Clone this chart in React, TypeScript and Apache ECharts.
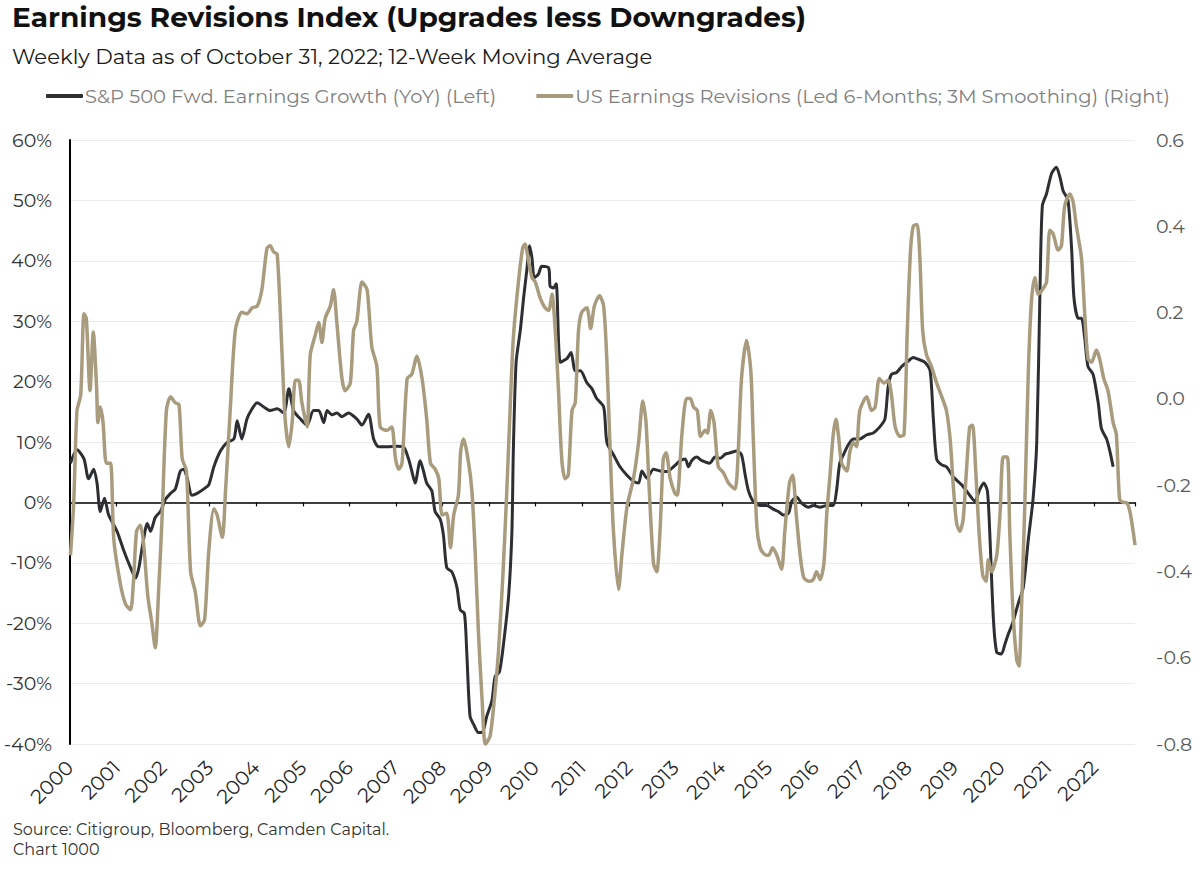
import React, { useEffect, useRef } from "react";
import * as echarts from "echarts";

// S&P 500 forward earnings growth, YoY (%), left axis — [decimal year, value]
const sp500Growth: [number, number][] = [
  [2000.01, 6.5], [2000.15, 8.7], [2000.3, 7.2], [2000.4, 3.9], [2000.51, 5.5], [2000.58, 3.2], [2000.65, -1.5], [2000.74, 0.7], [2000.83, -2.1],
  [2001.01, -4.8], [2001.16, -8.1], [2001.3, -10.8], [2001.41, -12.5], [2001.48, -10.8], [2001.55, -7.5], [2001.66, -3.5], [2001.73, -4.8], [2001.83, -2.5], [2001.94, -1.5],
  [2002.05, 0.5], [2002.16, 1.5], [2002.26, 2.2], [2002.37, 5.2], [2002.44, 5.5], [2002.51, 4.2], [2002.62, 1.2], [2002.73, 1.5], [2002.87, 2.2], [2002.98, 2.9],
  [2003.09, 5.9], [2003.23, 8.5], [2003.37, 9.9], [2003.52, 10.5], [2003.59, 13.5], [2003.69, 10.5], [2003.8, 13.8], [2003.91, 15.5],
  [2004.02, 16.5], [2004.16, 15.8], [2004.3, 15.2], [2004.45, 15.5], [2004.59, 14.8], [2004.7, 18.8], [2004.8, 15.2], [2004.95, 13.8],
  [2005.09, 12.8], [2005.23, 15.2], [2005.34, 15.2], [2005.45, 13.2], [2005.52, 15.2], [2005.63, 14.5], [2005.73, 14.8], [2005.84, 14.2], [2005.98, 14.8],
  [2006.16, 13.8], [2006.27, 12.8], [2006.41, 14.6], [2006.52, 10.5], [2006.63, 9.2], [2006.81, 9.2],
  [2007.02, 9.3], [2007.16, 9.2], [2007.27, 7.2], [2007.34, 5.2], [2007.41, 3.2], [2007.52, 6.9], [2007.59, 5.2], [2007.66, 3.2], [2007.77, 1.9], [2007.84, -1.5], [2007.95, -2.8],
  [2008.02, -5.5], [2008.09, -10.8], [2008.2, -11.5], [2008.31, -14.1], [2008.38, -17.8], [2008.47, -18.4], [2008.52, -24.8], [2008.59, -35.4], [2008.67, -36.8], [2008.77, -38.1], [2008.85, -38.1], [2008.95, -35.4],
  [2009.06, -32.8], [2009.13, -28.8], [2009.22, -28.1], [2009.31, -23.4], [2009.42, -15.4], [2009.49, -4.8], [2009.52, 8.5], [2009.58, 23.2], [2009.67, 28.5], [2009.74, 33.8], [2009.81, 38.5], [2009.87, 42.5], [2009.92, 40.5], [2009.97, 37.2],
  [2010.06, 37.8], [2010.13, 39.1], [2010.28, 38.8], [2010.31, 35.8], [2010.38, 35.5], [2010.44, 36.2], [2010.53, 23.2], [2010.67, 23.8], [2010.76, 24.8], [2010.85, 21.8], [2010.96, 21.8],
  [2011.1, 19.8], [2011.21, 18.8], [2011.31, 17.2], [2011.46, 15.8], [2011.53, 9.9], [2011.67, 7.9], [2011.81, 5.9], [2011.96, 4.5],
  [2012.1, 3.5], [2012.21, 3.2], [2012.28, 5.2], [2012.39, 4.0], [2012.53, 5.5], [2012.67, 5.2], [2012.82, 5.1], [2012.96, 5.9],
  [2013.1, 6.9], [2013.21, 7.2], [2013.28, 5.9], [2013.35, 6.9], [2013.46, 7.5], [2013.57, 6.9], [2013.74, 6.5], [2013.85, 7.5], [2013.96, 7.3],
  [2014.07, 8.0], [2014.17, 8.2], [2014.32, 8.5], [2014.42, 7.9], [2014.5, 4.5], [2014.57, 1.9], [2014.67, 0.2], [2014.82, -0.5], [2014.96, -0.5],
  [2015.1, -1.1], [2015.21, -1.5], [2015.32, -2.1], [2015.43, -1.8], [2015.5, 0.2], [2015.6, 0.9], [2015.71, -0.1], [2015.86, -0.8], [2015.96, -0.5],
  [2016.11, -0.8], [2016.25, -0.5], [2016.39, -0.5], [2016.46, 1.9], [2016.53, 6.5], [2016.61, 7.9], [2016.71, 9.5], [2016.82, 10.5], [2016.96, 10.5],
  [2017.11, 11.2], [2017.25, 11.5], [2017.39, 12.5], [2017.5, 13.8], [2017.57, 19.2], [2017.64, 21.2], [2017.75, 21.5], [2017.86, 22.5], [2017.97, 23.2],
  [2018.11, 24.0], [2018.18, 23.8], [2018.36, 23.2], [2018.47, 21.8], [2018.54, 13.8], [2018.61, 7.2], [2018.72, 6.2], [2018.82, 5.9], [2018.97, 4.2],
  [2019.15, 2.9], [2019.29, 1.5], [2019.43, 0.2], [2019.54, 2.2], [2019.62, 3.2], [2019.7, 1.9], [2019.75, -4.8], [2019.83, -19.4], [2019.9, -24.8],
  [2020.0, -25.1], [2020.08, -23.4], [2020.15, -21.8], [2020.25, -19.8], [2020.36, -16.8], [2020.47, -14.1], [2020.58, -6.1], [2020.68, 0.5], [2020.76, 9.9], [2020.83, 35.2], [2020.88, 49.1], [2020.97, 51.1],
  [2021.08, 54.5], [2021.18, 55.5], [2021.26, 53.8], [2021.33, 51.5], [2021.43, 50.1], [2021.51, 41.8], [2021.56, 33.8], [2021.65, 30.5], [2021.72, 30.5], [2021.79, 27.2], [2021.86, 22.5], [2021.97, 21.2],
  [2022.08, 16.5], [2022.15, 12.2], [2022.26, 10.5], [2022.33, 8.5], [2022.4, 5.9],
];

// US earnings revisions (led 6 months, 3M smoothing), right axis — [decimal year, value]
const usRevisions: [number, number][] = [
  [2000.01, -0.363], [2000.08, -0.241], [2000.15, -0.027], [2000.23, 0.009], [2000.3, 0.197], [2000.35, 0.187], [2000.43, 0.019], [2000.5, 0.155], [2000.57, 0.029], [2000.6, -0.055], [2000.65, -0.019], [2000.71, -0.055], [2000.78, -0.149], [2000.87, -0.149], [2000.94, -0.325],
  [2001.08, -0.428], [2001.19, -0.475], [2001.3, -0.489], [2001.36, -0.428], [2001.43, -0.307], [2001.51, -0.293], [2001.58, -0.335], [2001.67, -0.456], [2001.76, -0.521], [2001.83, -0.577], [2001.91, -0.428], [2001.98, -0.269],
  [2002.07, -0.027], [2002.16, 0.005], [2002.26, -0.009], [2002.34, -0.013], [2002.41, -0.139], [2002.5, -0.167], [2002.59, -0.401], [2002.69, -0.447], [2002.8, -0.526], [2002.89, -0.512], [2002.98, -0.353],
  [2003.09, -0.255], [2003.16, -0.269], [2003.27, -0.321], [2003.34, -0.213], [2003.44, -0.027], [2003.55, 0.159], [2003.69, 0.201], [2003.8, 0.197], [2003.91, 0.211],
  [2004.02, 0.215], [2004.12, 0.253], [2004.23, 0.349], [2004.3, 0.355], [2004.37, 0.341], [2004.45, 0.335], [2004.55, 0.113], [2004.62, -0.047], [2004.7, -0.111], [2004.77, -0.055], [2004.84, 0.043], [2004.91, 0.043], [2004.98, -0.009],
  [2005.09, -0.065], [2005.16, 0.103], [2005.27, 0.149], [2005.34, 0.177], [2005.41, 0.131], [2005.48, 0.187], [2005.59, 0.215], [2005.66, 0.253], [2005.73, 0.177], [2005.84, 0.047], [2005.91, 0.019],
  [2006.02, 0.037], [2006.09, 0.159], [2006.16, 0.18], [2006.27, 0.271], [2006.38, 0.253], [2006.48, 0.121], [2006.59, 0.075], [2006.66, -0.065], [2006.81, -0.073], [2006.91, -0.065], [2006.99, -0.139],
  [2007.06, -0.163], [2007.13, -0.149], [2007.24, 0.047], [2007.34, 0.057], [2007.45, 0.099], [2007.56, 0.047], [2007.66, -0.047], [2007.74, -0.149], [2007.84, -0.163], [2007.92, -0.185], [2007.99, -0.269],
  [2008.09, -0.265], [2008.17, -0.345], [2008.24, -0.269], [2008.34, -0.223], [2008.39, -0.121], [2008.45, -0.093], [2008.56, -0.149], [2008.63, -0.213], [2008.7, -0.353], [2008.77, -0.54], [2008.85, -0.699], [2008.92, -0.8],
  [2009.02, -0.782], [2009.11, -0.699], [2009.2, -0.587], [2009.3, -0.401], [2009.38, -0.213], [2009.45, -0.027], [2009.52, 0.141], [2009.63, 0.271], [2009.72, 0.349], [2009.77, 0.359], [2009.85, 0.317], [2009.92, 0.281], [2009.99, 0.271],
  [2010.1, 0.233], [2010.2, 0.211], [2010.28, 0.205], [2010.35, 0.243], [2010.42, 0.159], [2010.49, 0.019], [2010.56, -0.139], [2010.63, -0.185], [2010.7, -0.177], [2010.78, -0.027], [2010.85, -0.009], [2010.92, 0.159], [2010.99, 0.201],
  [2011.1, 0.211], [2011.18, 0.163], [2011.26, 0.215], [2011.37, 0.239], [2011.46, 0.215], [2011.53, 0.085], [2011.6, -0.121], [2011.67, -0.307], [2011.78, -0.442], [2011.85, -0.363], [2011.96, -0.251],
  [2012.1, -0.185], [2012.21, -0.101], [2012.3, -0.005], [2012.37, -0.055], [2012.44, -0.213], [2012.53, -0.381], [2012.6, -0.401], [2012.67, -0.307], [2012.74, -0.139], [2012.8, -0.125], [2012.89, -0.185], [2012.99, -0.219],
  [2013.04, -0.223], [2013.14, -0.083], [2013.24, 0.001], [2013.32, 0.001], [2013.39, -0.019], [2013.47, -0.027], [2013.54, -0.087], [2013.64, -0.073], [2013.69, -0.079], [2013.76, -0.027], [2013.83, -0.055], [2013.92, -0.157],
  [2014.03, -0.171], [2014.14, -0.195], [2014.28, -0.209], [2014.35, -0.121], [2014.42, 0.047], [2014.53, 0.135], [2014.62, 0.065], [2014.67, -0.083], [2014.75, -0.297], [2014.82, -0.345], [2014.9, -0.359],
  [2015.0, -0.363], [2015.09, -0.345], [2015.18, -0.363], [2015.28, -0.395], [2015.35, -0.307], [2015.45, -0.195], [2015.52, -0.177], [2015.59, -0.261], [2015.68, -0.363], [2015.76, -0.415], [2015.88, -0.423], [2015.96, -0.419],
  [2016.03, -0.401], [2016.11, -0.419], [2016.19, -0.381], [2016.25, -0.269], [2016.32, -0.177], [2016.39, -0.083], [2016.45, -0.047], [2016.5, -0.083], [2016.57, -0.149], [2016.68, -0.167], [2016.75, -0.121], [2016.82, -0.101], [2016.89, -0.111], [2016.96, -0.027],
  [2017.11, 0.005], [2017.21, -0.027], [2017.29, -0.019], [2017.38, 0.047], [2017.48, 0.037], [2017.57, 0.043], [2017.64, 0.009], [2017.72, -0.065], [2017.82, -0.087], [2017.91, -0.083], [2017.98, 0.159],
  [2018.05, 0.345], [2018.11, 0.401], [2018.19, 0.404], [2018.25, 0.327], [2018.31, 0.159], [2018.39, 0.103], [2018.5, 0.075], [2018.61, 0.037], [2018.72, 0.005], [2018.82, -0.027], [2018.9, -0.093], [2018.97, -0.205],
  [2019.04, -0.289], [2019.11, -0.307], [2019.18, -0.279], [2019.25, -0.167], [2019.32, -0.065], [2019.38, -0.061], [2019.45, -0.167], [2019.52, -0.307], [2019.6, -0.409], [2019.67, -0.423], [2019.72, -0.373], [2019.79, -0.401], [2019.9, -0.363], [2019.97, -0.269],
  [2020.04, -0.135], [2020.13, -0.135], [2020.18, -0.307], [2020.25, -0.493], [2020.33, -0.605], [2020.38, -0.619], [2020.43, -0.493], [2020.5, -0.261], [2020.58, 0.065], [2020.65, 0.233], [2020.72, 0.281], [2020.79, 0.243], [2020.88, 0.253], [2020.97, 0.271],
  [2021.04, 0.391], [2021.11, 0.383], [2021.22, 0.345], [2021.29, 0.355], [2021.36, 0.447], [2021.47, 0.475], [2021.54, 0.457], [2021.61, 0.401], [2021.72, 0.327], [2021.79, 0.197], [2021.86, 0.093], [2021.94, 0.085],
  [2022.04, 0.113], [2022.11, 0.093], [2022.2, 0.047], [2022.29, 0.019], [2022.4, -0.055], [2022.47, -0.083], [2022.54, -0.233], [2022.62, -0.24], [2022.69, -0.241], [2022.76, -0.261], [2022.83, -0.307], [2022.87, -0.339],
];

const seriesNames = [
  "S&P 500 Fwd. Earnings Growth (YoY) (Left)",
  "US Earnings Revisions (Led 6-Months; 3M Smoothing) (Right)",
];
const titleText = "Earnings Revisions Index (Upgrades less Downgrades)";
const subtitleText = "Weekly Data as of October 31, 2022; 12-Week Moving Average";
const sourceLines = ["Source: Citigroup, Bloomberg, Camden Capital.", "Chart 1000"];

const xMin = 2000;
const xMax = 2022.87;
const lastYearLabel = 2022;
const leftMin = -40;
const leftMax = 60;
const leftStep = 10;
const rightMin = -0.8;
const rightMax = 0.6;
const rightStep = 0.2;

const FONT = "Montserrat, 'DejaVu Sans', 'Noto Sans', sans-serif";
const BLACK = "#2d2f33";
const TAN = "#a99b7d";

export default function App() {
  const ref = useRef<HTMLDivElement>(null);

  useEffect(() => {
    if (!ref.current) return;
    const chart = echarts.init(ref.current, null, { renderer: "svg" });
    chart.setOption({
      animation: false,
      backgroundColor: "#ffffff",
      textStyle: { fontFamily: FONT },
      graphic: [
        {
          type: "text",
          left: 12,
          top: 3,
          style: { text: titleText, fontFamily: FONT, fontSize: 28, fontWeight: "bold", fill: "#111111" },
        },
        {
          type: "text",
          left: 12,
          top: 45,
          style: { text: subtitleText, fontFamily: FONT, fontSize: 21.2, fill: "#1a1a1a" },
        },
        {
          type: "text",
          left: 13,
          top: 820,
          style: { text: sourceLines.join("\n"), fontFamily: FONT, fontSize: 16, lineHeight: 19.5, fill: "#333333" },
        },
      ],
      legend: {
        left: 46,
        top: 86,
        padding: 0,
        icon: "roundRect",
        itemWidth: 37,
        itemHeight: 4,
        itemGap: 40,
        data: seriesNames,
        textStyle: { fontFamily: FONT, fontSize: 19.5, color: "#7f7f7f", padding: [0, 0, 0, -3] },
      },
      grid: { left: 70, right: 65, top: 140, bottom: 128, containLabel: false },
      xAxis: [
        {
          type: "value",
          min: xMin,
          max: xMax,
          interval: 1,
          axisLine: { show: false, onZero: false },
          axisTick: { show: false },
          splitLine: { show: false },
          axisLabel: {
            rotate: 45,
            margin: 20,
            fontFamily: FONT,
            fontSize: 20,
            color: "#262626",
            showMaxLabel: false,
            formatter: (v: number) => (v > lastYearLabel + 0.01 ? "" : String(Math.round(v))),
          },
        },
        {
          type: "value",
          position: "bottom",
          min: xMin,
          max: xMax,
          interval: 1,
          axisLine: { show: true, onZero: true, onZeroAxisIndex: 0, lineStyle: { color: "#000000", width: 1.5 } },
          axisTick: { show: true, length: 4, lineStyle: { color: "#000000", width: 1.2 } },
          axisLabel: { show: false },
          splitLine: { show: false },
        },
      ],
      yAxis: [
        {
          type: "value",
          min: leftMin,
          max: leftMax,
          interval: leftStep,
          axisLine: { show: true, onZero: false, lineStyle: { color: "#000000", width: 2 } },
          axisTick: { show: false },
          splitLine: { show: true, lineStyle: { color: "#ebebeb", width: 1 } },
          axisLabel: {
            margin: 18,
            fontFamily: FONT,
            fontSize: 19,
            color: "#333333",
            formatter: (v: number) => `${Math.round(v)}%`,
          },
        },
        {
          type: "value",
          min: rightMin,
          max: rightMax,
          interval: rightStep,
          position: "right",
          axisLine: { show: false },
          axisTick: { show: false },
          splitLine: { show: false },
          axisLabel: {
            margin: 21,
            fontFamily: FONT,
            fontSize: 19,
            color: "#595959",
            formatter: (v: number) => (Math.abs(v) < 1e-9 ? "0.0" : v.toFixed(1)),
          },
        },
      ],
      series: [
        {
          name: seriesNames[0],
          type: "line",
          xAxisIndex: 0,
          yAxisIndex: 0,
          data: sp500Growth,
          showSymbol: false,
          smooth: 0.25,
          lineStyle: { color: BLACK, width: 3 },
          itemStyle: { color: BLACK },
          z: 2,
        },
        {
          name: seriesNames[1],
          type: "line",
          xAxisIndex: 0,
          yAxisIndex: 1,
          data: usRevisions,
          showSymbol: false,
          smooth: 0.25,
          lineStyle: { color: TAN, width: 3.5 },
          itemStyle: { color: TAN },
          z: 3,
        },
      ],
    });
    return () => chart.dispose();
  }, []);

  return (
    <div
      ref={ref}
      style={{ position: "fixed", left: 0, top: 0, width: 1200, height: 872, background: "#ffffff" }}
    />
  );
}
